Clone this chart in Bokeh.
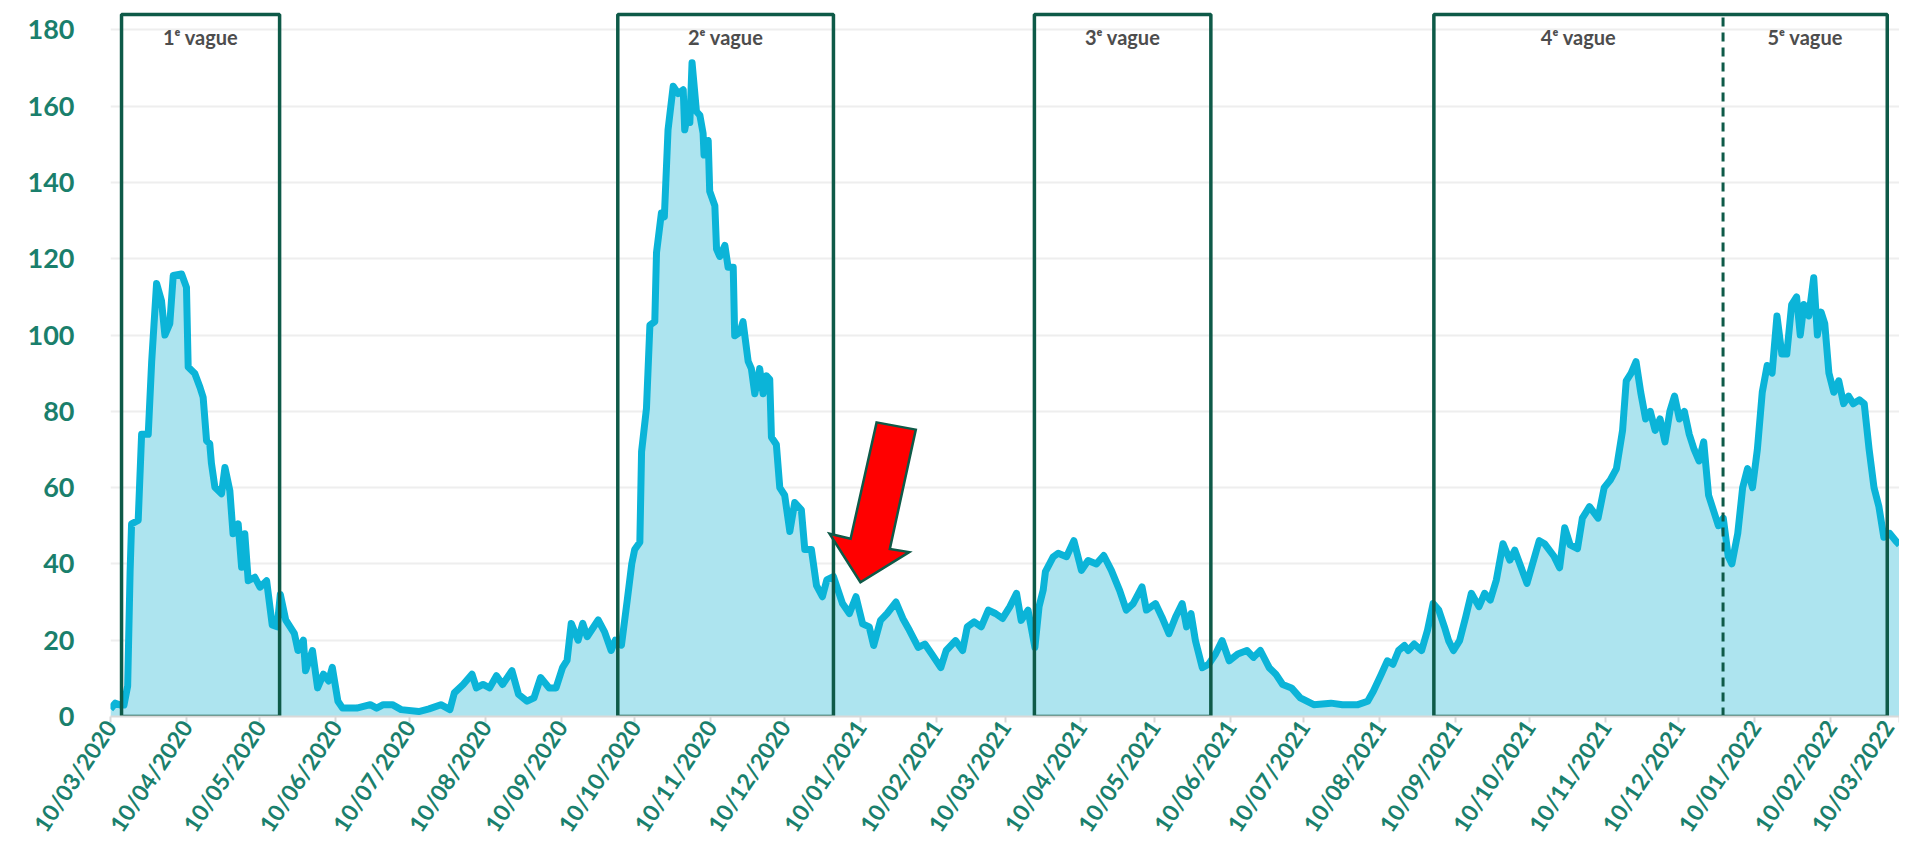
import datetime as dt
import pandas as pd
from bokeh.plotting import figure
from bokeh.models import ColumnDataSource, Range1d, FixedTicker
from bokeh.core.properties import value
from bokeh.embed import file_html
from bokeh.resources import INLINE

# ---------------- data ----------------
START = "2020-03-10"
END = "2022-03-10"

# days after 10/03/2020
DAY = [0, 2, 4, 5.5, 7, 8, 8.6, 11.3, 12.7, 15.4, 16.8, 18.8, 20.8, 22.2, 24.2, 25.6, 29, 31, 31.7,
       34.4, 36.5, 37.8, 39.2, 40.5, 41.2, 42.6, 45.3, 46.7, 48.7, 50, 52.1, 53.5, 54.8, 56.2, 58.9,
       61, 63.7, 66, 68, 69.3, 71.5, 73.3, 75, 76.5, 78.7, 79.6, 82.4, 84.5, 86.9, 89, 90.5, 92.8,
       94.7, 100.5, 106, 108.6, 111.3, 115, 118.6, 125.8, 130, 134.8, 138.5, 140.3, 143.9, 147.5,
       149.3, 152, 154.7, 157.5, 160, 163.8, 166.5, 170, 172.8, 175.5, 179, 181.8, 184.5, 186.3,
       188, 190.8, 192.7, 194.5, 199, 201.6, 204.3, 206, 208.5, 210.9, 212.7, 213.9, 216, 216.7,
       218.7, 220.1, 222.1, 222.8, 224.8, 226, 227.5, 229.6, 231.6, 233.7, 234.3, 235.7, 236.4,
       237.3, 239.1, 240.5, 241.8, 242.2, 243.9, 244.5, 246.6, 247.3, 248.6, 250.7, 252, 254.1,
       254.7, 256.8, 258.1, 260.2, 261.5, 262.9, 264.9, 266.3, 267.7, 269, 269.7, 271.7, 273.1,
       275.1, 277.2, 279.2, 281.9, 283.3, 286, 288.1, 290.5, 292.3, 295, 298.7, 301.5, 304.2,
       306.9, 309.6, 311.4, 314.2, 316.9, 320.5, 323.3, 326, 329.6, 332.3, 335.1, 338.8, 341,
       344.8, 347.7, 349.6, 352.4, 355.3, 358.2, 361.1, 364, 367, 369.7, 371.6, 374.4, 377.2,
       378.9, 380.6, 381.5, 384.6, 386.7, 390.1, 393.1, 396.2, 398.9, 402.3, 405.3, 408.4, 411.8,
       414.5, 417.3, 420.9, 422.7, 426.4, 429, 431.9, 434.6, 437.3, 439.1, 440.9, 442.7, 445.5,
       448.1, 450.9, 453.6, 456.5, 460, 463.7, 466.4, 469.2, 472.8, 475.5, 478.3, 481.9, 485.5,
       491, 498, 502.7, 509, 513, 515.3, 518.5, 521, 523.3, 525.6, 528, 529.5, 532, 535, 537.4,
       539.7, 542, 544.3, 546, 548, 550.5, 553, 555.3, 558.4, 560.7, 563, 565.5, 568.2, 571, 573,
       578, 583, 585.3, 589, 591.3, 593.4, 595.6, 598.6, 600.6, 603.5, 607, 609.5, 612, 614.5,
       617, 618.5, 620.5, 622.5, 624.4, 626.4, 628.3, 630.3, 632.3, 634.3, 636.3, 638.2, 640.2,
       642.2, 644.2, 646.2, 648.2, 650.1, 652.1, 654.1, 656.1, 658.1, 660.1, 661.6, 664, 666, 668,
       670, 672, 674, 676, 678, 680, 682, 684, 686, 688, 689.5, 691, 693, 695, 696.5, 698, 699.5,
       701.2, 703.2, 705.2, 707.2, 709.2, 711.1, 713.6, 715.6, 717.6, 719.6, 721.6, 723.6, 726,
       728.5, 730]

INCIDENCE = [2, 3.5, 3, 3, 8, 38, 50.5, 51.4, 74, 74, 93, 113.5, 109, 100, 103, 115.6, 116, 112.5,
             91.6, 89.9, 86.3, 83.7, 72.3, 71.5, 66.3, 60.1, 58.4, 65.3, 59.2, 47.9, 50.5, 39.1,
             47.9, 35.6, 36.5, 33.9, 35.6, 24, 23.5, 32, 25.3, 23.5, 21.8, 17.3, 20, 12, 17.3, 7.5,
             11.1, 9.3, 12.9, 4, 2.2, 2.2, 3.1, 2.2, 3.1, 3.1, 1.8, 1.3, 2, 3.1, 1.8, 6.2, 8.4,
             11.1, 7.5, 8.4, 7.5, 10.7, 8.4, 12, 5.8, 4, 4.9, 10.2, 7.5, 7.5, 12.9, 14.7, 24.4, 20,
             24.4, 20.9, 25.3, 22.2, 17.3, 20, 18.7, 30.7, 40, 43.8, 45.7, 69.4, 80.8, 102.6, 103.5,
             121.6, 132, 131, 153.8, 165.2, 163.3, 164.3, 153.8, 158.6, 155.7, 171.4, 158.6, 157.6,
             152.9, 147.2, 151, 137.7, 133.9, 122.5, 120.6, 123.5, 117.8, 117.8, 99.8, 100.7,
             103.5, 93.1, 91.2, 84.6, 91.2, 84.6, 89.3, 88.4, 73.2, 71.3, 60, 58, 48.5, 56.1, 54.2,
             43.8, 43.8, 34.3, 31.4, 35.8, 36.7, 29.6, 27, 31.4, 24.3, 23.5, 18.6, 25.2, 27, 30,
             25.7, 22.6, 18.1, 19, 16.4, 12.8, 17.3, 19.9, 17.3, 23.5, 24.8, 23.5, 27.9, 27, 25.7,
             28.8, 32.3, 25.2, 27.9, 18.1, 28.8, 33.2, 38, 41.8, 42.8, 41.9, 46.1, 38.3, 40.9, 40,
             42.2, 38.3, 33, 27.9, 29.6, 34, 27.9, 29.6, 26.1, 21.7, 26.1, 29.6, 23.5, 27, 19.9,
             12.8, 13.7, 16.4, 19.9, 14.6, 16.4, 17.3, 15.5, 17.3, 12.8, 11.1, 8.4, 7.5, 4.9, 3.1,
             3.5, 3.1, 3.1, 4, 6.6, 11, 14.6, 13.7, 17.3, 18.6, 17.3, 19, 17.3, 22.6, 29.6, 27.9,
             23.5, 19.9, 17.3, 19.9, 26.1, 32.3, 28.8, 32.3, 30.5, 35.8, 45.3, 41, 43.6, 34.9, 46.1,
             45.2, 42, 39, 49.5, 45, 44, 52, 55, 52, 60, 62, 65, 75, 88, 90, 93, 85, 78, 80, 75, 78,
             72, 80, 84, 78, 80, 74, 70, 67, 72, 58, 54, 50, 52, 42, 40, 48, 60, 65, 60, 70, 85, 92,
             90, 105, 95, 95, 108, 110, 100, 108, 105, 115, 100, 106, 103, 90, 85, 88, 82, 84, 82,
             83, 82, 70, 60, 55, 47, 48, 46, 45]

TICK_LABELS = ["10/03/2020", "10/04/2020", "10/05/2020", "10/06/2020", "10/07/2020",
               "10/08/2020", "10/09/2020", "10/10/2020", "10/11/2020", "10/12/2020",
               "10/01/2021", "10/02/2021", "10/03/2021", "10/04/2021", "10/05/2021",
               "10/06/2021", "10/07/2021", "10/08/2021", "10/09/2021", "10/10/2021",
               "10/11/2021", "10/12/2021", "10/01/2022", "10/02/2022", "10/03/2022"]
Y_TICKS = [0, 20, 40, 60, 80, 100, 120, 140, 160, 180]

WAVE_LABELS = ["1ᵉ vague", "2ᵉ vague", "3ᵉ vague", "4ᵉ vague", "5ᵉ vague"]
WAVE_START = ["2020-03-14 12:00", "2020-10-03", "2021-03-22", "2021-09-01", "2021-12-28"]
WAVE_END = ["2020-05-18", "2020-12-30", "2021-06-02", "2021-12-28", "2022-03-05"]
BOX_TOP = 184
LABEL_Y = 178

# red arrow outline (days after start, value)
ARROW_DAYS = [312.6, 328.6, 318.0, 325.9, 306.0, 293.4, 302.0]
ARROW_VALS = [77.1, 75.2, 43.9, 43.1, 35.2, 47.9, 46.6]

# ---------------- styles ----------------
TEAL = "#1a7f6c"
BOX = "#0e5a48"
LINE = "#0bb4d8"
FILL = "#ade4ef"
FONT = "Lato"

t0 = pd.Timestamp(START)
t1 = pd.Timestamp(END)


def offs(days):
    return [t0 + pd.Timedelta(days=float(d)) for d in days]


xs = offs(DAY)
src = ColumnDataSource(dict(x=xs, y=INCIDENCE))

p = figure(x_axis_type="datetime", frame_width=1789, frame_height=708,
           min_border_left=110, min_border_right=0, min_border_top=8, min_border_bottom=0,
           x_range=Range1d(t0, t1), y_range=Range1d(0, 185.6),
           output_backend="svg", toolbar_location=None,
           background_fill_color="white", border_fill_color="white",
           outline_line_color=None)

# axes
tick_ms = [int(pd.Timestamp(dt.datetime.strptime(s, "%d/%m/%Y")).value // 10**6) for s in TICK_LABELS]
p.xaxis.ticker = FixedTicker(ticks=tick_ms)
p.xaxis.major_label_overrides = {ms: lab for ms, lab in zip(tick_ms, TICK_LABELS)}
p.xaxis.major_label_orientation = 0.98
p.xaxis.major_label_text_font = FONT
p.xaxis.major_label_text_font_style = "bold"
p.xaxis.major_label_text_font_size = "23px"
p.xaxis.major_label_text_color = TEAL
p.xaxis.major_label_standoff = 0
p.xaxis.axis_line_color = "#d9d9d9"
p.xaxis.axis_line_width = 2
p.xaxis.major_tick_line_color = "#d9d9d9"
p.xaxis.major_tick_line_width = 2
p.xaxis.major_tick_in = 0
p.xaxis.major_tick_out = 6
p.xaxis.minor_tick_line_color = None

p.yaxis.ticker = FixedTicker(ticks=Y_TICKS)
p.yaxis.axis_line_color = None
p.yaxis.major_tick_line_color = None
p.yaxis.minor_tick_line_color = None
p.yaxis.major_label_text_font = FONT
p.yaxis.major_label_text_font_style = "bold"
p.yaxis.major_label_text_font_size = "27px"
p.yaxis.major_label_text_color = TEAL
p.yaxis.major_label_standoff = 30

p.xgrid.visible = False
p.ygrid.grid_line_color = "#eeeeee"
p.ygrid.grid_line_width = 2

# area + line
p.varea(x="x", y1=0, y2="y", source=src, fill_color=FILL)
p.line(x="x", y="y", source=src, line_color=LINE, line_width=7, line_join="round")

# wave boxes: waves 1-3 separate, waves 4-5 share one outer box split by a dashed line
ws = [pd.Timestamp(s) for s in WAVE_START]
we = [pd.Timestamp(s) for s in WAVE_END]
box_src = ColumnDataSource(dict(left=ws[:3] + [ws[3]], right=we[:3] + [we[4]]))
p.quad(left="left", right="right", bottom=0, top=BOX_TOP, source=box_src,
       fill_alpha=0, line_color=BOX, line_width=3.5)
p.segment(x0=[we[3]], y0=[0], x1=[we[3]], y1=[BOX_TOP], line_color=BOX,
          line_width=3, line_dash="9 6")

centers = [a + (b - a) / 2 for a, b in zip(ws, we)]
lab_src = ColumnDataSource(dict(x=centers, y=[LABEL_Y] * len(centers), t=WAVE_LABELS))
p.text(x="x", y="y", text="t", source=lab_src, text_align="center", text_baseline="middle",
       text_font=value(FONT), text_font_style="bold", text_font_size="20px",
       text_color="#4d4d4d")

# red arrow
p.patch(x=offs(ARROW_DAYS), y=ARROW_VALS, fill_color="#ff0000", line_color=BOX,
        line_width=2.5, line_join="miter")

open("out.html", "w").write(file_html(p, INLINE))
